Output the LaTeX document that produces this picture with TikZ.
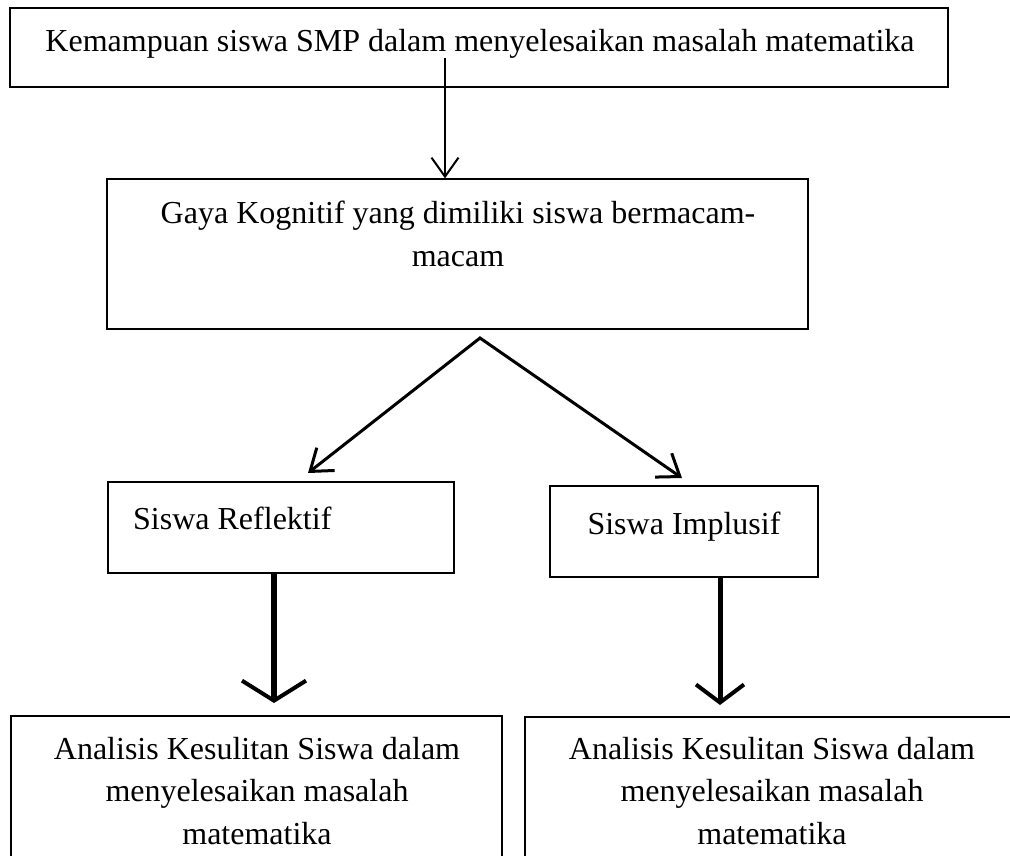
\documentclass[tikz,border=0pt]{standalone}
\usepackage{fontspec}
\setmainfont{Liberation Serif}
\usetikzlibrary{arrows.meta}

\begin{document}
\begin{tikzpicture}[x=1pt,y=-1pt,
  box/.style={draw,line width=1.3pt,inner sep=0pt},
  txt/.style={font=\fontsize{32}{42.5}\selectfont,align=center,inner sep=0pt,anchor=base},
  thinarrow/.style={line width=2pt,-{Straight Barb[length=19pt,width=27pt]}},
  forkarrow/.style={line width=3pt,line join=miter,{Straight Barb[length=20pt,width=29pt]}-{Straight Barb[length=20pt,width=29pt]}},
  fatarrow/.style={line width=6pt,-{Straight Barb[length=20pt,width=64pt,line width=4pt]}}]
\path[use as bounding box,clip] (0,0) rectangle (1010,855);
% top box
\node[box,minimum width=938pt,minimum height=79pt] (top) at (479,47.5) {};
\node[txt] (toptxt) at (480,51) {Kemampuan siswa SMP dalam menyelesaikan masalah matematika};
% gaya kognitif
\node[box,minimum width=701pt,minimum height=150pt] (gaya) at (457.5,254) {};
\node[txt] (gayatxt) at (458,266) {Gaya Kognitif yang dimiliki siswa bermacam-\\macam};
% two kinds of pupils
\node[box,minimum width=346pt,minimum height=91pt] (refl) at (281,527.5) {};
\node[txt,anchor=base west] (refltxt) at (133,529) {Siswa Reflektif};
\node[box,minimum width=268pt,minimum height=91pt] (impl) at (684,531.5) {};
\node[txt] (impltxt) at (684,534) {Siswa Implusif};
% analysis boxes (run off the page)
\node[box,minimum width=491pt,minimum height=184pt] (anal1) at (256.5,808) {};
\node[txt] (anal1txt) at (257,844) {Analisis Kesulitan Siswa dalam\\menyelesaikan masalah\\matematika};
\node[box,minimum width=515pt,minimum height=183pt] (anal2) at (782.5,808.5) {};
\node[txt] (anal2txt) at (772,844) {Analisis Kesulitan Siswa dalam\\menyelesaikan masalah\\matematika};
% arrows
\coordinate (a1) at (445,58);
\draw[thinarrow] (a1) -- (a1 |- gaya.north);
\coordinate (apex) at (480,338);
\coordinate (ltip) at (308,473);
\coordinate (rtip) at (682,478);
\draw[forkarrow] (ltip) -- (apex) -- (rtip);
\coordinate (d1) at (274,703);
\draw[fatarrow] (refl.south -| d1) -- (d1);
\coordinate (d2) at (720,705);
\draw[line width=5pt,-{Straight Barb[length=18pt,width=48pt,line width=4pt]}] (impl.south -| d2) -- (d2);
\end{tikzpicture}
\end{document}
